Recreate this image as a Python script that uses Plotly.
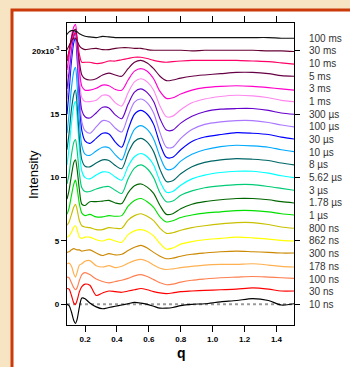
import plotly.graph_objects as go

q = [0.087, 0.10, 0.115, 0.13, 0.14, 0.15, 0.165, 0.18, 0.20, 0.23, 0.27, 0.31,
     0.35, 0.39, 0.43, 0.47, 0.51, 0.55, 0.59, 0.63, 0.67, 0.71, 0.75, 0.80,
     0.87, 0.95, 1.05, 1.15, 1.25, 1.35, 1.43, 1.51]

labels = ["10 ns", "30 ns", "100 ns", "178 ns", "300 ns", "862 ns", "800 ns",
          "1 µs", "1.78 µs", "3 µs", "5.62 µs", "8 µs", "10 µs", "30 µs",
          "100 µs", "300 µs", "1 ms", "3 ms", "5 ms", "10 ms", "30 ms", "100 ms"]

colors = ["#000000", "#FF0000", "#FF7F50", "#FFB050", "#CC8800", "#FFFF00",
          "#C8C000", "#00E000", "#006600", "#00CC77", "#00FFFF", "#006666",
          "#00AAFF", "#0000FF", "#AA77FF", "#6600CC", "#FF88EE", "#FF00CC",
          "#660044", "#FF0066", "#660033", "#111111"]

# difference intensities (units of 1e-3), one list per time delay
s_10ns = [0.0, -0.1, -0.6, -1.3, -1.5, -1.2, -0.2, 0.5, 0.45, 0.1, -0.2, -0.35, -0.25, -0.15, -0.05, 0.05, 0.15, 0.1, 0.0, -0.15, -0.3, -0.3, -0.25, -0.1, 0.0, 0.05, 0.2, 0.3, 0.45, 0.3, -0.05, 0.05]
s_30ns = [0.25, 0.2, -0.3, -0.9, -1.0, -0.7, 0.0, 0.4, 0.6, 0.5, -0.3, -0.1, 0.05, 0.0, -0.05, 0.05, 0.15, 0.25, 0.15, 0.0, -0.1, -0.15, -0.1, 0.0, 0.05, 0.1, 0.15, 0.2, 0.3, 0.2, 0.05, 0.05]
s_100ns = [0.15, 0.1, -0.3, -0.7, -0.85, -0.7, -0.1, 0.35, 0.5, 0.35, 0.0, -0.2, -0.3, -0.2, -0.1, 0.05, 0.25, 0.35, 0.2, -0.05, -0.3, -0.45, -0.4, -0.25, -0.1, 0.0, 0.1, 0.15, 0.2, 0.15, 0.1, 0.05]
s_178ns = [0.2, 0.25, 0.0, -0.6, -0.85, -0.5, 0.1, 0.2, 0.4, 0.45, 0.05, -0.05, 0.05, -0.1, 0.0, 0.25, 0.45, 0.55, 0.4, 0.1, -0.15, -0.25, -0.2, -0.1, 0.0, 0.1, 0.15, 0.15, 0.2, 0.1, 0.0, -0.05]
s_300ns = [0.1, 0.15, 0.3, 0.4, 0.35, 0.3, 0.3, 0.2, 0.25, 0.3, 0.05, -0.15, 0.0, -0.1, -0.05, 0.25, 0.5, 0.65, 0.45, 0.1, -0.2, -0.4, -0.35, -0.2, -0.05, 0.05, 0.15, 0.2, 0.15, 0.1, 0.05, 0.05]
s_862ns = [0.3, 0.4, 0.7, 1.1, 1.2, 0.9, 0.3, 0.2, 0.3, 0.3, 0.1, 0.0, 0.15, 0.0, -0.1, 0.5, 0.8, 0.9, 0.75, 0.4, -0.2, -0.65, -0.55, -0.25, -0.05, 0.1, 0.2, 0.3, 0.25, 0.15, 0.05, 0.0]
s_800ns = [0.25, 0.5, 1.1, 1.7, 1.9, 1.5, 0.6, 0.2, 0.1, 0.05, -0.1, -0.1, 0.05, 0.0, 0.0, 0.65, 1.0, 1.15, 0.95, 0.6, 0.0, -0.4, -0.35, -0.15, 0.05, 0.2, 0.35, 0.45, 0.45, 0.3, 0.1, 0.0]
s_1us = [0.1, 0.6, 1.6, 2.5, 2.8, 2.2, 0.9, 0.2, 0.0, 0.1, -0.1, -0.1, 0.0, -0.05, 0.0, 0.75, 1.2, 1.35, 1.1, 0.65, -0.1, -0.5, -0.4, -0.15, 0.05, 0.2, 0.3, 0.4, 0.4, 0.3, 0.15, 0.05]
s_178us = [0.3, 1.0, 2.2, 3.2, 3.4, 2.7, 1.0, -0.1, -0.2, 0.1, 0.1, 0.15, 0.2, 0.0, -0.05, 0.8, 1.35, 1.5, 1.25, 0.75, -0.2, -0.9, -0.85, -0.45, -0.1, 0.1, 0.25, 0.35, 0.35, 0.25, 0.1, 0.0]
s_3us = [0.5, 1.3, 2.8, 3.8, 4.0, 3.2, 1.3, 0.2, -0.1, -0.1, 0.1, 0.25, 0.3, 0.0, -0.25, 0.9, 1.75, 2.0, 1.7, 1.0, -0.2, -0.9, -0.85, -0.4, -0.05, 0.2, 0.35, 0.45, 0.45, 0.3, 0.15, 0.0]
s_562us = [1.0, 2.3, 4.3, 5.7, 6.0, 4.9, 2.2, 0.5, 0.0, -0.1, 0.2, 0.45, 0.4, 0.05, -0.2, 0.9, 1.65, 1.9, 1.65, 1.0, -0.3, -1.15, -1.1, -0.6, -0.1, 0.2, 0.4, 0.5, 0.5, 0.35, 0.15, 0.0]
s_8us = [1.2, 2.5, 4.4, 5.6, 5.9, 4.8, 2.1, 0.4, -0.1, -0.15, 0.15, 0.4, 0.35, -0.05, -0.3, 0.95, 1.85, 2.1, 1.8, 1.05, -0.35, -1.3, -1.25, -0.7, -0.15, 0.2, 0.4, 0.5, 0.45, 0.35, 0.15, 0.0]
s_10us = [1.5, 3.0, 5.1, 6.4, 6.7, 5.4, 2.4, 0.5, -0.15, -0.25, 0.1, 0.4, 0.35, -0.2, -0.6, 0.7, 1.8, 2.1, 1.8, 1.05, -0.35, -1.35, -1.3, -0.7, -0.15, 0.2, 0.45, 0.55, 0.5, 0.4, 0.2, 0.05]
s_30us = [2.0, 3.8, 6.2, 7.7, 8.0, 6.5, 3.0, 0.7, -0.1, -0.3, 0.1, 0.5, 0.45, -0.2, -0.6, 0.8, 2.0, 2.3, 2.0, 1.2, -0.35, -1.4, -1.4, -0.8, -0.15, 0.2, 0.4, 0.55, 0.5, 0.4, 0.2, 0.05]
s_100us = [2.2, 3.8, 5.9, 7.1, 7.4, 6.0, 2.5, 0.4, -0.3, -0.5, 0.0, 0.5, 0.4, -0.1, -0.4, 0.85, 1.95, 2.2, 1.9, 1.1, -0.45, -1.6, -1.6, -0.9, -0.2, 0.2, 0.4, 0.5, 0.5, 0.35, 0.15, 0.0]
s_300us = [2.0, 3.4, 5.2, 6.2, 6.5, 5.2, 2.1, 0.3, -0.2, -0.3, 0.1, 0.55, 0.5, -0.05, -0.35, 0.8, 1.75, 2.0, 1.7, 1.0, -0.35, -1.25, -1.25, -0.7, -0.15, 0.2, 0.4, 0.45, 0.45, 0.3, 0.1, 0.0]
s_1ms = [1.8, 3.0, 4.6, 5.5, 5.7, 4.5, 1.8, 0.3, 0.0, 0.0, 0.1, 0.5, 0.45, -0.1, -0.35, 0.7, 1.55, 1.8, 1.55, 0.9, -0.35, -1.2, -1.15, -0.65, -0.1, 0.2, 0.4, 0.5, 0.45, 0.3, 0.1, 0.0]
s_3ms = [1.5, 2.6, 4.1, 4.9, 5.1, 4.0, 1.5, 0.2, -0.1, -0.1, 0.05, 0.3, 0.25, -0.05, -0.1, 0.7, 1.4, 1.6, 1.4, 0.8, -0.2, -0.75, -0.7, -0.4, -0.1, 0.1, 0.2, 0.25, 0.2, 0.1, 0.0, -0.1]
s_5ms = [1.2, 2.0, 3.0, 3.6, 3.7, 2.9, 1.1, 0.1, -0.2, -0.3, -0.2, 0.1, 0.25, 0.1, 0.0, 0.6, 1.1, 1.25, 1.05, 0.6, 0.0, -0.35, -0.3, -0.15, 0.0, 0.1, 0.2, 0.3, 0.3, 0.2, 0.05, 0.0]
s_10ms = [0.3, 0.9, 1.7, 2.3, 2.4, 1.9, 0.7, 0.1, 0.1, 0.1, 0.0, 0.05, 0.2, 0.2, 0.3, 0.4, 0.5, 0.5, 0.4, 0.25, 0.15, 0.1, 0.15, 0.2, 0.25, 0.25, 0.25, 0.25, 0.2, 0.15, 0.05, -0.05]
s_30ms = [0.1, 0.4, 0.8, 1.0, 1.0, 0.8, 0.4, 0.2, 0.1, 0.15, 0.2, 0.1, 0.1, 0.2, 0.25, 0.25, 0.2, 0.2, 0.1, 0.05, 0.05, 0.05, 0.05, 0.05, 0.0, 0.05, 0.05, 0.05, 0.05, 0.0, 0.0, -0.05]
s_100ms = [0.3, 0.5, 0.6, 0.6, 0.55, 0.5, 0.35, 0.25, 0.15, 0.1, 0.05, 0.15, 0.1, 0.05, 0.05, 0.05, 0.05, 0.05, 0.05, 0.05, 0.05, 0.05, 0.05, 0.05, 0.05, 0.05, 0.05, 0.05, 0.05, 0.05, 0.0, 0.0]

series = [s_10ns, s_30ns, s_100ns, s_178ns, s_300ns, s_862ns, s_800ns, s_1us,
          s_178us, s_3us, s_562us, s_8us, s_10us, s_30us, s_100us, s_300us,
          s_1ms, s_3ms, s_5ms, s_10ms, s_30ms, s_100ms]

offset_step = 1.0  # vertical stacking offset (1e-3)

y_ticks = [0, 5, 10, 15, 20]
y_ticktext = ["0", "5", "10", "15", "20x10<sup>-3</sup>"]
x_ticks = [0.2, 0.4, 0.6, 0.8, 1.0, 1.2, 1.4]
x_ticktext = ["0.2", "0.4", "0.6", "0.8", "1.0", "1.2", "1.4"]

FONT = "Liberation Sans, Arial, sans-serif"

fig = go.Figure()
for i, (vals, col) in enumerate(zip(series, colors)):
    off = i * offset_step
    fig.add_trace(go.Scatter(
        x=q, y=[v + off for v in vals], mode="lines",
        line=dict(color=col, width=1.15, shape="spline", smoothing=0.8),
        hoverinfo="skip", showlegend=False))

# zero reference line
fig.add_shape(type="line", xref="x", yref="y", x0=0.087, x1=1.51, y0=0, y1=0,
              line=dict(color="#9A9A9A", width=2, dash="dot"), layer="below")

# panel background: white card with orange-red border
W, H = 350, 367
L, R, T, B = 67, 56, 23, 42
pw, ph = W - L - R, H - T - B
def px(xp):
    return (xp - L) / pw
def py(yp):
    return (H - B - yp) / ph
fig.add_shape(type="rect", xref="paper", yref="paper",
              x0=px(12), x1=px(360), y0=py(10), y1=py(380),
              fillcolor="white", line=dict(color="#CC3A0A", width=3),
              layer="below")

for i, lab in enumerate(labels):
    fig.add_annotation(x=px(307), xref="paper", y=i * offset_step, yref="y",
                       text=lab, showarrow=False, xanchor="left",
                       yanchor="middle",
                       font=dict(family=FONT, size=10, color="#333333"))

# axis titles
fig.add_annotation(x=px(33), y=py(175), xref="paper", yref="paper",
                   text="Intensity", textangle=-90, showarrow=False,
                   xanchor="center", yanchor="middle",
                   font=dict(family=FONT, size=13, color="black"))
fig.add_annotation(x=px(181), y=py(353), xref="paper", yref="paper",
                   text="q", showarrow=False, xanchor="center", yanchor="middle",
                   font=dict(family=FONT, size=14, color="black", weight="bold"))

fig.update_layout(
    width=W, height=H,
    margin=dict(l=L, r=R, t=T, b=B),
    paper_bgcolor="#F7E4C3",
    plot_bgcolor="white",
    showlegend=False,
    font=dict(family=FONT),
    xaxis=dict(range=[0.087, 1.51], tickvals=x_ticks, ticktext=x_ticktext,
               ticks="outside", ticklen=6, tickwidth=1, tickcolor="black",
               showline=True, linecolor="black", linewidth=1.3, mirror="ticks",
               showgrid=False, zeroline=False,
               tickfont=dict(family=FONT, size=8, color="black", weight="bold")),
    yaxis=dict(range=[-1.63, 22.2], tickvals=y_ticks, ticktext=y_ticktext,
               ticks="outside", ticklen=5, tickwidth=1, tickcolor="black",
               showline=True, linecolor="black", linewidth=1.3, mirror="ticks",
               showgrid=False, zeroline=False,
               tickfont=dict(family=FONT, size=8, color="black", weight="bold")),
)

fig.write_html("out.html", config={"displayModeBar": False},
               post_script="document.body.style.margin='0';document.body.style.overflow='hidden';")
